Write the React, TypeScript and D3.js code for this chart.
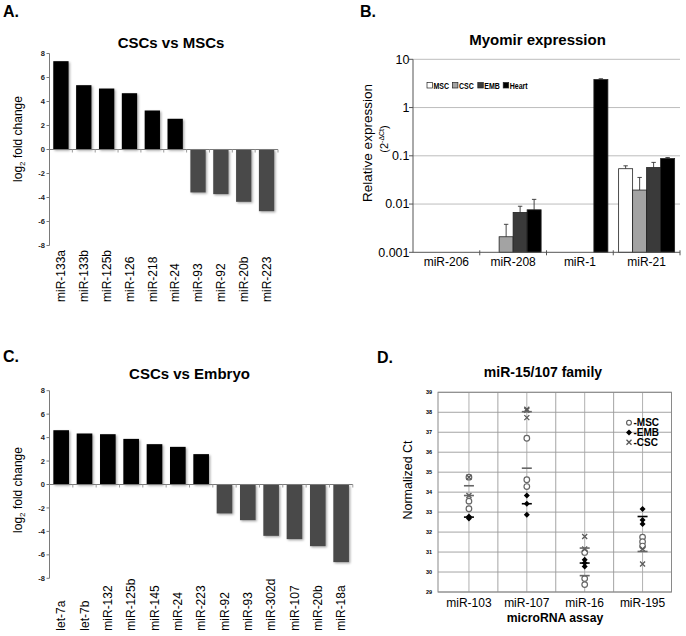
import React from 'react';
import * as d3 from 'd3';

const FONT = '"Liberation Sans", Arial, Helvetica, sans-serif';

// ---------- Panel A: CSCs vs MSCs ----------
const catsA = ['miR-133a', 'miR-133b', 'miR-125b', 'miR-126', 'miR-218', 'miR-24', 'miR-93', 'miR-92', 'miR-20b', 'miR-223'];
const valsA = [7.36, 5.36, 5.08, 4.69, 3.25, 2.56, -3.58, -3.72, -4.36, -5.14];

// ---------- Panel C: CSCs vs Embryo ----------
const catsC = ['let-7a', 'let-7b', 'miR-132', 'miR-125b', 'miR-145', 'miR-24', 'miR-223', 'miR-92', 'miR-93', 'miR-302d', 'miR-107', 'miR-20b', 'miR-18a'];
const valsC = [4.63, 4.35, 4.29, 3.89, 3.44, 3.21, 2.59, -2.47, -3.04, -4.38, -4.66, -5.26, -6.62];

const foldTicks = [8, 6, 4, 2, 0, -2, -4, -6, -8];

// ---------- Panel B: Myomir expression ----------
const groupsB = ['miR-206', 'miR-208', 'miR-1', 'miR-21'];
const seriesB = ['MSC', 'CSC', 'EMB', 'Heart'];
const valuesB: (number | null)[][] = [
  [null, null, null, null],
  [null, 0.0021, 0.0067, 0.0076],
  [null, null, null, 3.8],
  [0.054, 0.0195, 0.057, 0.088],
];
const errTopB: (number | null)[][] = [
  [null, null, null, null],
  [null, 0.0038, 0.009, 0.0125],
  [null, null, null, 3.95],
  [0.062, 0.0356, 0.073, 0.092],
];
const ticksB = [10, 1, 0.1, 0.01, 0.001];
const tickLabelsB = ['10', '1', '0.1', '0.01', '0.001'];
const colorsB = ['#ffffff', '#a3a3a3', '#3a3a3a', '#000000'];

// ---------- Panel D: miR-15/107 family ----------
const catsD = ['miR-103', 'miR-107', 'miR-16', 'miR-195'];
const mscCt = [
  [34.75, 33.55, 33.17],
  [36.7, 34.62, 34.28],
  [30.98, 29.67, 29.37],
  [31.75, 31.52, 31.3],
];
const embCt = [
  [32.78, 32.68],
  [33.83, 33.42, 32.87],
  [30.62, 30.45, 30.28],
  [33.15, 32.6, 32.4],
];
const cscCt = [
  [34.75, 33.83],
  [38.15, 38.1, 37.73],
  [31.78, 31.15],
  [31.15, 30.4],
];
const grayMeanCt = [
  [34.32, 33.83],
  [38.03, 35.2],
  [31.2, 29.82],
  [31.03],
];
const blackMeanCt = [32.75, 33.42, 30.45, 32.78];
const ticksD = [29, 30, 31, 32, 33, 34, 35, 36, 37, 38, 39];

type FoldProps = {
  cats: string[];
  vals: number[];
  left: number;
  right: number;
  top: number;
  bottom: number;
  title: string;
  titleX: number;
  titleY: number;
  letter: string;
  letterY: number;
  ylabelY: number;
  labelBottom: number;
};

function FoldPanel(p: FoldProps) {
  const x = d3.scaleBand<string>().domain(p.cats).range([p.left, p.right]).paddingInner(0.33).paddingOuter(0.165);
  const y = d3.scaleLinear().domain([-8, 8]).range([p.bottom, p.top]);
  const step = x.step();
  const y0 = y(0);
  return (
    <g>
      <text x={3} y={p.letterY} fontSize={16} fontWeight="bold">{p.letter}</text>
      <text x={p.titleX} y={p.titleY} fontSize={15} fontWeight="bold" textAnchor="middle">{p.title}</text>
      <text transform={`translate(21.5,${p.ylabelY}) rotate(-90)`} fontSize={12} textAnchor="middle">
        log<tspan fontSize={8} dy={3}>2</tspan><tspan dy={-3}> fold change</tspan>
      </text>
      <line x1={p.left} x2={p.left} y1={y(8)} y2={y(-8)} stroke="#7a7a7a" strokeWidth={1} />
      {foldTicks.map((t) => (
        <g key={t}>
          <line x1={p.left - 3} x2={p.left} y1={y(t)} y2={y(t)} stroke="#7a7a7a" />
          <text x={p.left - 4.5} y={y(t)} dy="0.35em" fontSize={7.5} fontWeight="bold" textAnchor="end" fill="#222">{t}</text>
        </g>
      ))}
      {p.cats.map((c, i) => {
        const v = p.vals[i];
        return (
          <rect
            key={c}
            x={x(c)}
            width={x.bandwidth()}
            y={Math.min(y(v), y0)}
            height={Math.abs(y(v) - y0)}
            fill={v >= 0 ? '#000000' : '#4a4a4a'}
            filter="url(#barShadow)"
          />
        );
      })}
      <line x1={p.left} x2={p.right} y1={y0} y2={y0} stroke="#7a7a7a" />
      {p.cats.map((c, i) => (
        <line key={'t' + c} x1={p.left + step * (i + 1)} x2={p.left + step * (i + 1)} y1={y0} y2={y0 + 3} stroke="#9a9a9a" />
      ))}
      {p.cats.map((c) => (
        <text
          key={'l' + c}
          transform={`translate(${(x(c) as number) + x.bandwidth() / 2},${p.labelBottom}) rotate(-90)`}
          dy="0.35em"
          fontSize={12}
          textAnchor="start"
        >
          {c}
        </text>
      ))}
    </g>
  );
}

function PanelB() {
  const left = 413;
  const right = 680;
  const x = d3.scaleBand<string>().domain(groupsB).range([left, right]);
  const xi = d3.scaleBand<string>().domain(seriesB).range([0, x.bandwidth()]).paddingInner(0).paddingOuter(0.384);
  const y = d3.scaleLog().domain([0.001, 10]).range([252.3, 59.3]);
  const base = y(0.001);
  return (
    <g>
      <text x={360} y={17} fontSize={16} fontWeight="bold">B.</text>
      <text x={537.5} y={45} fontSize={15} fontWeight="bold" textAnchor="middle">Myomir expression</text>
      <text transform={`translate(372,143) rotate(-90)`} fontSize={13.5} textAnchor="middle">Relative expression</text>
      <text transform={`translate(387.5,139) rotate(-90)`} fontSize={11} textAnchor="middle">
        (2<tspan fontSize={7} dy={-4}>-ΔCt</tspan><tspan dy={4}>)</tspan>
      </text>
      {ticksB.map((t, i) => (
        <g key={t}>
          {t > 0.001 && <line x1={left} x2={right} y1={y(t)} y2={y(t)} stroke="#bdbdbd" strokeWidth={1} />}
          <line x1={left - 4} x2={left} y1={y(t)} y2={y(t)} stroke="#555" />
          <text x={409.5} y={y(t)} dy="0.35em" fontSize={12.5} textAnchor="end">{tickLabelsB[i]}</text>
        </g>
      ))}
      <line x1={left} x2={left} y1={y(10)} y2={base} stroke="#555" />
      {groupsB.map((g, gi) => (
        <g key={g}>
          {seriesB.map((s, si) => {
            const v = valuesB[gi][si];
            if (v == null) return null;
            const bx = (x(g) as number) + (xi(s) as number);
            const bw = xi.bandwidth();
            const e = errTopB[gi][si];
            return (
              <g key={s}>
                {e != null && (
                  <g stroke="#333" strokeWidth={0.9}>
                    <line x1={bx + bw / 2} x2={bx + bw / 2} y1={y(v)} y2={y(e)} />
                    <line x1={bx + bw / 2 - 2.2} x2={bx + bw / 2 + 2.2} y1={y(e)} y2={y(e)} />
                  </g>
                )}
                <rect x={bx} width={bw} y={y(v)} height={base - y(v)} fill={colorsB[si]} stroke="#222" strokeWidth={0.8} />
              </g>
            );
          })}
          <text x={(x(g) as number) + x.bandwidth() / 2} y={266} fontSize={12} textAnchor="middle">{g}</text>
        </g>
      ))}
      <line x1={left} x2={right} y1={base} y2={base} stroke="#555" />
      {groupsB.map((g, gi) => (
        <line key={'tk' + g} x1={left + x.step() * (gi + 1)} x2={left + x.step() * (gi + 1)} y1={base - 2} y2={base + 3} stroke="#555" />
      ))}
      {seriesB.map((s, i) => {
        const lx = 427 + i * 25.4;
        return (
          <g key={'lg' + s}>
            <rect x={lx} y={82.5} width={5.5} height={5.5} fill={colorsB[i]} stroke="#222" strokeWidth={0.7} />
            <text transform={`translate(${lx + 6.5},89) scale(0.78,1)`} fontSize={9} fontWeight="bold">{s}</text>
          </g>
        );
      })}
    </g>
  );
}

function Cross({ cx, cy, color }: { cx: number; cy: number; color: string }) {
  const r = 2.5;
  return (
    <path d={`M${cx - r},${cy - r}L${cx + r},${cy + r}M${cx - r},${cy + r}L${cx + r},${cy - r}`} stroke={color} strokeWidth={1.3} fill="none" />
  );
}

function Diamond({ cx, cy }: { cx: number; cy: number }) {
  const r = 3;
  return <path d={`M${cx},${cy - r}L${cx + r},${cy}L${cx},${cy + r}L${cx - r},${cy}Z`} fill="#000" />;
}

function PanelD() {
  const left = 440;
  const right = 671.5;
  const frameLeft = 438;
  const x = d3.scaleBand<string>().domain(catsD).range([left, right]);
  const y = d3.scaleLinear().domain([29, 39]).range([592, 392.3]);
  const cx = (c: string) => (x(c) as number) + x.bandwidth() / 2;
  return (
    <g>
      <text x={377} y={363} fontSize={16} fontWeight="bold">D.</text>
      <text x={543} y={377} fontSize={14} fontWeight="bold" textAnchor="middle">miR-15/107 family</text>
      <text transform={`translate(411.5,480) rotate(-90)`} fontSize={12.5} textAnchor="middle">Normalized Ct</text>
      {ticksD.map((t) => (
        <g key={t}>
          <line x1={frameLeft} x2={right} y1={y(t)} y2={y(t)} stroke="#9a9a9a" strokeWidth={0.9} />
          <text x={432} y={y(t)} dy="0.35em" fontSize={5.5} fontWeight="bold" textAnchor="end">{t}</text>
        </g>
      ))}
      {catsD.map((c, i) => (
        <g key={c}>
          <line x1={cx(c)} x2={cx(c)} y1={y(39)} y2={y(29)} stroke="#a8a8a8" strokeWidth={0.9} />
          {i > 0 && <line x1={x(c)} x2={x(c)} y1={y(39)} y2={y(29)} stroke="#9a9a9a" strokeWidth={0.9} />}
        </g>
      ))}
      <rect x={frameLeft} y={y(39)} width={right - frameLeft} height={y(29) - y(39)} fill="none" stroke="#8a8a8a" strokeWidth={1} />
      {catsD.map((c, i) => (
        <g key={'p' + c}>
          {mscCt[i].map((v, j) => (
            <circle key={'m' + j} cx={cx(c)} cy={y(v)} r={2.8} fill="#fff" stroke="#666" strokeWidth={1.2} />
          ))}
          {cscCt[i].map((v, j) => (
            <Cross key={'c' + j} cx={cx(c)} cy={y(v)} color="#5a5a5a" />
          ))}
          {grayMeanCt[i].map((v, j) => (
            <line key={'g' + j} x1={cx(c) - 5} x2={cx(c) + 5} y1={y(v)} y2={y(v)} stroke="#666" strokeWidth={1.6} />
          ))}
          {embCt[i].map((v, j) => (
            <Diamond key={'e' + j} cx={cx(c)} cy={y(v)} />
          ))}
          <line x1={cx(c) - 5} x2={cx(c) + 5} y1={y(blackMeanCt[i])} y2={y(blackMeanCt[i])} stroke="#000" strokeWidth={1.6} />
          <text x={cx(c)} y={607.3} fontSize={12} textAnchor="middle">{c}</text>
        </g>
      ))}
      <text x={555} y={621.7} fontSize={12.2} fontWeight="bold" textAnchor="middle">microRNA assay</text>
      <g fontSize={10} fontWeight="bold">
        <circle cx={629} cy={422.7} r={2.4} fill="#fff" stroke="#555" strokeWidth={1.1} />
        <text x={633.5} y={426.2}>-MSC</text>
        <Diamond cx={629} cy={432.5} />
        <text x={633.5} y={436}>-EMB</text>
        <Cross cx={629} cy={442.3} color="#555" />
        <text x={633.5} y={445.8}>-CSC</text>
      </g>
    </g>
  );
}

export default function App() {
  return (
    <svg
      width={686}
      height={636}
      viewBox="0 0 686 636"
      style={{ position: 'absolute', left: 0, top: 0, background: '#fff' }}
      fontFamily={FONT}
    >
      <defs>
        <filter id="barShadow" x="-30%" y="-10%" width="160%" height="125%">
          <feDropShadow dx="1.3" dy="1.2" stdDeviation="0.8" floodColor="#000" floodOpacity="0.35" />
        </filter>
      </defs>
      <rect width={686} height={636} fill="#fff" />
      <FoldPanel
        cats={catsA}
        vals={valsA}
        left={49.5}
        right={278}
        top={53.5}
        bottom={245.5}
        title="CSCs vs MSCs"
        titleX={171}
        titleY={48.3}
        letter="A."
        letterY={16.7}
        ylabelY={139}
        labelBottom={302}
      />
      <FoldPanel
        cats={catsC}
        vals={valsC}
        left={49.5}
        right={352.8}
        top={390.7}
        bottom={578.3}
        title="CSCs vs Embryo"
        titleX={189.5}
        titleY={379.3}
        letter="C."
        letterY={361.7}
        ylabelY={490}
        labelBottom={630.7}
      />
      <PanelB />
      <PanelD />
    </svg>
  );
}
